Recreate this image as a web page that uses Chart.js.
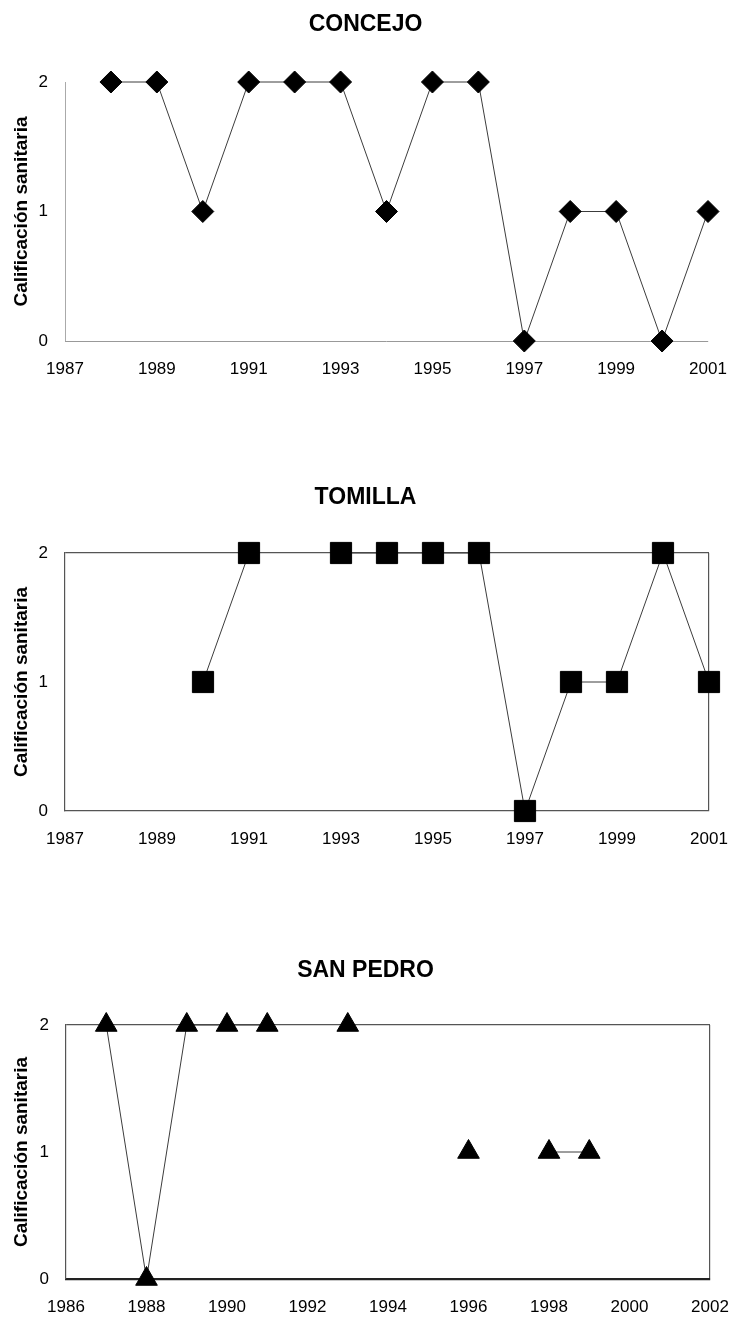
<!DOCTYPE html>
<html>
<head>
<meta charset="utf-8">
<script src="https://cdn.jsdelivr.net/npm/chart.js@4.4.0/dist/chart.umd.min.js"></script>
<style>
  html, body { margin: 0; padding: 0; background: #fff; }
  body { width: 731px; height: 1317px; position: relative; overflow: hidden; }
  .panel { position: absolute; left: 0; }
  canvas { display: block; }
</style>
</head>
<body>
<div class="panel" style="top:0px"><canvas id="concejo" width="731" height="400"></canvas></div>
<div class="panel" style="top:473px"><canvas id="tomilla" width="731" height="400"></canvas></div>
<div class="panel" style="top:946px"><canvas id="sanPedro" width="731" height="371"></canvas></div>

<script>
// Calificación sanitaria por año (null = sin dato)
const concejoYears = [1988, 1989, 1990, 1991, 1992, 1993, 1994, 1995, 1996, 1997, 1998, 1999, 2000, 2001];
const concejoValues = [2, 2, 1, 2, 2, 2, 1, 2, 2, 0, 1, 1, 0, 1];

const tomillaYears = [1990, 1991, 1992, 1993, 1994, 1995, 1996, 1997, 1998, 1999, 2000, 2001];
const tomillaValues = [1, 2, null, 2, 2, 2, 2, 0, 1, 1, 2, 1];

const sanPedroYears = [1987, 1988, 1989, 1990, 1991, 1992, 1993, 1994, 1995, 1996, 1997, 1998, 1999];
const sanPedroValues = [2, 0, 2, 2, 2, null, 2, null, null, 1, null, 1, 1];

// etiquetas del eje x
const ticks8701 = [1987, 1989, 1991, 1993, 1995, 1997, 1999, 2001];
const ticks8602 = [1986, 1988, 1990, 1992, 1994, 1996, 1998, 2000, 2002];
const yTicks = [0, 1, 2];

Chart.defaults.font.family = "'Liberation Sans', Arial, sans-serif";
Chart.defaults.color = "#000";

function makeChart(id, o) {
  const frame = "#555";
  const xMin = o.ticks[0];
  const xMax = o.ticks[o.ticks.length - 1];
  return new Chart(document.getElementById(id), {
    type: "line",
    data: {
      datasets: [{
        data: o.years.map((y, i) => ({ x: y, y: o.values[i] })),
        borderColor: "#3c3c3c",
        borderWidth: 1,
        tension: 0,
        spanGaps: false,
        clip: false,
        pointStyle: o.pointStyle,
        pointRadius: o.radius,
        pointBackgroundColor: "#000",
        pointBorderColor: "#000",
        pointBorderWidth: 1,
      }],
    },
    options: {
      responsive: false,
      animation: false,
      layout: { padding: 0 },
      plugins: {
        legend: { display: false },
        tooltip: { enabled: false },
        title: {
          display: true,
          text: o.title,
          font: { size: 23, weight: "bold" },
          color: "#000",
          padding: { top: 10.5, bottom: o.titleGap },
        },
      },
      scales: {
        x: {
          type: "linear",
          min: xMin,
          max: xMax,
          afterBuildTicks: (s) => { s.ticks = o.ticks.map((v) => ({ value: v })); },
          afterFit: (s) => {
            s.height = o.xHeight;
            // margen derecho fijo para que el título quede centrado en el lienzo
            s.paddingLeft = 0;
            s.paddingRight = o.padRight;
          },
          ticks: { font: { size: 17 }, padding: 18, maxRotation: 0, callback: (v) => String(v) },
          grid: {
            display: o.framed,
            drawTicks: false,
            lineWidth: 1.2,
            color: (c) => (c.tick && c.tick.value === xMax ? frame : "transparent"),
          },
          border: o.framed
            ? { display: true, color: o.bottomColor || frame, width: o.bottomWidth || 1.2 }
            : { display: true, color: "#999", width: 1, dash: [9, 5] },
        },
        y: {
          min: 0,
          max: 2,
          afterBuildTicks: (s) => { s.ticks = yTicks.map((v) => ({ value: v })); },
          afterFit: (s) => { s.width = o.yWidth; },
          ticks: { font: { size: 17 }, padding: 17 },
          title: {
            display: true,
            text: "Calificación sanitaria",
            font: { size: 19, weight: "bold" },
            color: "#000",
            padding: { top: 10, bottom: 0 },
          },
          grid: {
            display: o.framed,
            drawTicks: false,
            lineWidth: 1.2,
            color: (c) => (c.tick && c.tick.value === 2 ? frame : "transparent"),
          },
          border: o.framed
            ? { display: true, color: frame, width: 1.2 }
            : { display: true, color: "#aaa", width: 1, dash: [7, 9] },
        },
      },
    },
  });
}

makeChart("concejo", {
  title: "CONCEJO", years: concejoYears, values: concejoValues, ticks: ticks8701,
  pointStyle: "rectRot", radius: 11, framed: false,
  titleGap: 43.9, xHeight: 59, yWidth: 65, padRight: 23,
});

makeChart("tomilla", {
  title: "TOMILLA", years: tomillaYears, values: tomillaValues, ticks: ticks8701,
  pointStyle: "rect", radius: 15, framed: true,
  titleGap: 41.9, xHeight: 62, yWidth: 65, padRight: 22,
});

makeChart("sanPedro", {
  title: "SAN PEDRO", years: sanPedroYears, values: sanPedroValues, ticks: ticks8602,
  pointStyle: "triangle", radius: 12.5, framed: true,
  bottomColor: "#222", bottomWidth: 2.2,
  titleGap: 40.9, xHeight: 38, yWidth: 66, padRight: 21,
});
</script>
</body>
</html>
